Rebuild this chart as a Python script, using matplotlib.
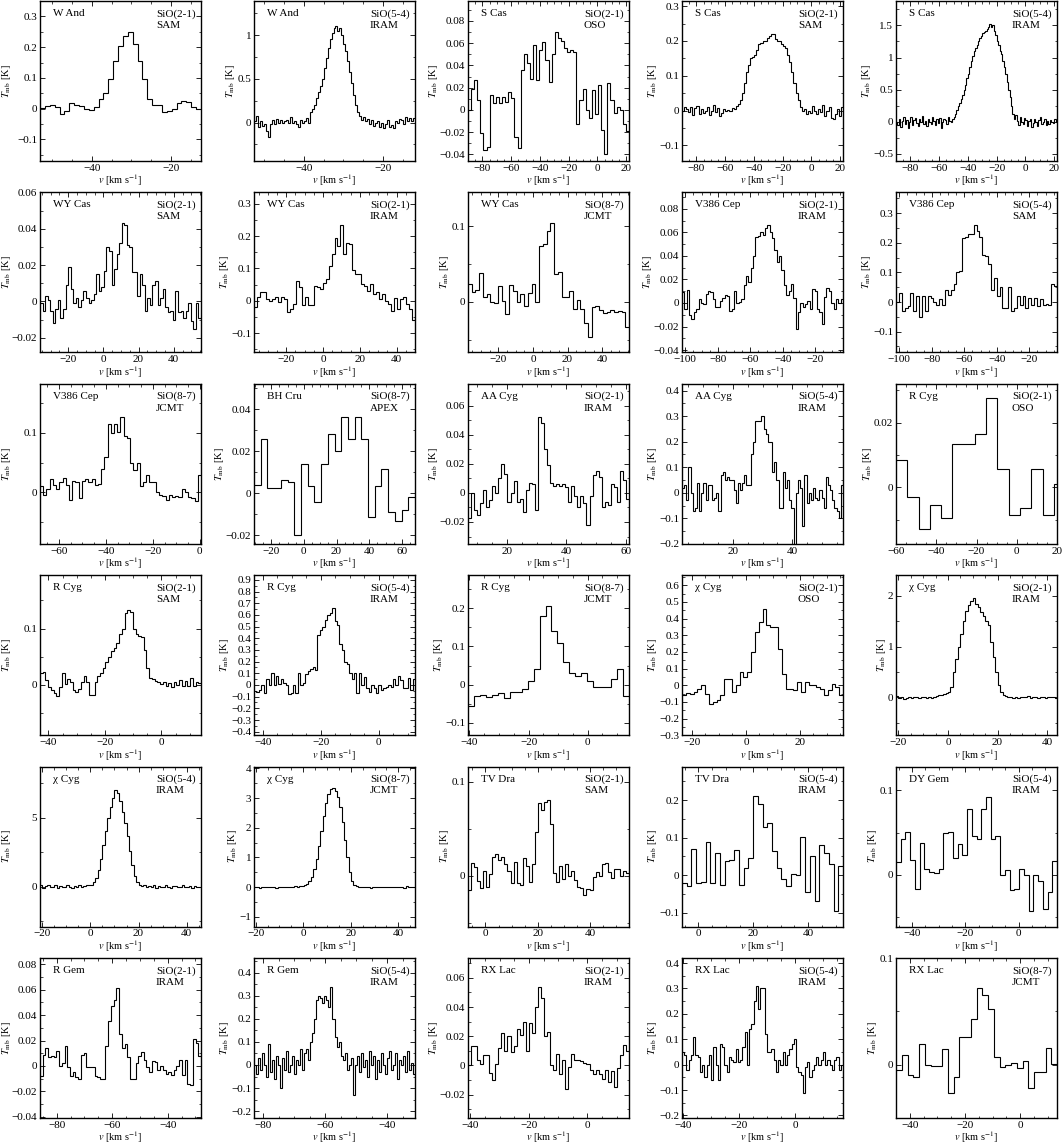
import numpy as np
import matplotlib
matplotlib.use("Agg")
import matplotlib.pyplot as plt
from matplotlib.ticker import FuncFormatter, AutoMinorLocator, FixedLocator

plt.rcParams['font.family'] = ['Liberation Serif', 'DejaVu Serif']
plt.rcParams['mathtext.fontset'] = 'stix'
plt.rcParams['font.size'] = 8

# ---------------- data (T_mb in K per velocity channel) ----------------
w_and_21 = [0.003, 0.008, 0.011, 0.006, -0.017, -0.008, 0.017, 0.011, 0.008, 0.0, -0.005, 0.006, 0.03, 0.052,
            0.097, 0.154, 0.205, 0.235, 0.25, 0.21, 0.154, 0.095, 0.03, 0.011, 0.011, -0.012, -0.008, 0.0,
            0.017, 0.025, 0.022, 0.006, 0.0]
w_and_54 = [0.02, 0.07, -0.05, 0.02, -0.04, -0.02, -0.1, -0.16, -0.02, 0.03, -0.02, 0.04, 0.0, 0.03, -0.01,
            0.02, 0.03, -0.01, 0.06, 0.0, 0.02, -0.02, -0.05, 0.03, 0.0, 0.02, 0.05, 0.0, 0.12,
            0.15, 0.2, 0.28, 0.35, 0.42, 0.5, 0.62, 0.74, 0.85, 0.96, 1.02, 1.08, 1.1, 1.05, 1.08, 1.0, 0.9,
            0.82, 0.7, 0.58, 0.45, 0.32, 0.2, 0.12, 0.08, 0.03,
            0.06, 0.02, 0.04, -0.02, 0.03, -0.04, -0.01, 0.02, -0.05, 0.0, -0.06, -0.02, 0.03, -0.05, -0.03,
            -0.06, 0.02, -0.01, 0.04, 0.03, -0.02, 0.06, 0.02, 0.05, 0.02, 0.05]
s_cas_oso = [0.0, 0.019, 0.027, 0.009, -0.021, -0.036, -0.033, 0.013, 0.006, 0.012, 0.006, 0.012, 0.007, 0.016,
             0.011, -0.024, -0.034, 0.036, 0.05, 0.042, 0.028, 0.058, 0.027, 0.054, 0.061, 0.045, 0.025, 0.05,
             0.07, 0.065, 0.062, 0.056, 0.052, 0.054, 0.052, -0.013, 0.009, 0.019, 0.0, -0.007, 0.018, -0.004,
             0.022, -0.018, -0.04, 0.024, 0.009, -0.003, 0.003, 0.0, -0.013, -0.019]
s_cas_sam = [0.0, 0.01, 0.005, -0.005, 0.01, -0.012, 0.008, 0.012, -0.01, 0.005, -0.008, 0.0, 0.01, -0.012, 0.0,
             0.015, -0.005, 0.008, -0.015, -0.008, 0.005, 0.0, 0.003, -0.002, 0.008, 0.005, 0.012, 0.02,
             0.03, 0.05, 0.08, 0.11, 0.13, 0.15, 0.155, 0.16, 0.175, 0.19, 0.195, 0.2, 0.2, 0.21, 0.215, 0.22,
             0.22, 0.205, 0.2, 0.2, 0.19, 0.185, 0.18, 0.16, 0.14, 0.11, 0.08, 0.05, 0.03,
             0.01, 0.0, 0.005, -0.01, 0.0, -0.008, 0.012, 0.0, -0.01, 0.005, -0.005, 0.015, -0.015, 0.0, 0.01,
             -0.02, -0.025, -0.01, 0.005, -0.015, 0.01]
s_cas_iram = [0.0, -0.05, 0.05, -0.08, 0.02, 0.07, -0.03, 0.03, -0.09, 0.0, 0.08, -0.05, 0.03, 0.06, -0.02, -0.07,
              0.04, 0.0, 0.09, -0.04, 0.02, -0.06, 0.05, 0.0, -0.03, 0.07, 0.02, -0.05, 0.04, -0.02, 0.06, -0.1,
              0.0, 0.05, 0.03, -0.03, 0.08, 0.02, 0.0,
              0.05, 0.08, 0.12, 0.18, 0.25, 0.3, 0.36, 0.42, 0.5, 0.58, 0.68, 0.75, 0.85, 0.95, 1.02, 1.1, 1.15,
              1.2, 1.25, 1.3, 1.33, 1.38, 1.4, 1.42, 1.45, 1.48, 1.52, 1.47, 1.5, 1.42, 1.35, 1.25, 1.2, 1.1,
              1.05, 0.95, 0.85, 0.75, 0.62, 0.5, 0.38, 0.25, 0.12,
              0.05, 0.1, 0.02, -0.05, 0.08, 0.0, -0.04, 0.06, 0.03, -0.06, 0.02, 0.05, -0.08, -0.02, 0.04, 0.0,
              -0.06, 0.03, 0.07, -0.03, 0.0, 0.05, -0.05, 0.02, -0.04, 0.03, 0.0, -0.02, 0.04, -0.01]
wy_cas_sam = [-0.001, -0.005, 0.003, 0.001, -0.005, -0.012, -0.004, 0.001, -0.009, -0.004, 0.009, 0.019, 0.007,
              -0.001, 0.002, -0.003, 0.001, 0.006, 0.002, -0.001, 0.001, 0.004, 0.015, 0.006, 0.008, 0.017, 0.03,
              0.028, 0.009, 0.018, 0.026, 0.032, 0.043, 0.042, 0.031, 0.03, 0.016, 0.016, 0.003, 0.015, 0.009,
              -0.005, 0.002, -0.002, 0.009, 0.011, -0.002, 0.002, 0.007, -0.003, -0.006, -0.005, -0.01, 0.006,
              -0.006, -0.005, -0.009, -0.005, -0.001, -0.011, -0.015, -0.001, -0.009]
wy_cas_iram = [-0.02, 0.012, 0.026, 0.026, 0.005, 0.0, 0.005, 0.01, -0.005, 0.01, 0.005, -0.036, -0.026, -0.01,
               0.061, 0.041, -0.013, 0.01, -0.012, -0.012, 0.046, 0.041, 0.036, 0.056, 0.067, 0.108, 0.143,
               0.194, 0.169, 0.235, 0.143, 0.179, 0.174, 0.095, 0.082, 0.082, 0.051, 0.046, 0.031, 0.051, 0.02,
               0.026, 0.005, 0.02, 0.0, -0.01, -0.031, 0.008, -0.026, 0.005, 0.01, -0.01, -0.026, -0.061]
wy_cas_jcmt = [0.023, 0.013, 0.016, 0.038, 0.007, 0.01, 0.0, -0.001, 0.021, 0.001, -0.016, 0.022, 0.015, 0.0,
               0.011, -0.006, 0.012, 0.024, 0.0, 0.074, 0.076, 0.094, 0.105, 0.037, 0.039, 0.007, 0.007, 0.015,
               -0.009, 0.002, -0.01, -0.028, -0.046, -0.007, -0.006, -0.011, -0.015, -0.013, -0.011, -0.013,
               -0.012, -0.013, -0.034]
v386_iram = [0.009, -0.005, 0.011, -0.01, -0.014, -0.008, -0.005, 0.003, 0.0, -0.001, 0.008, 0.01, 0.009, 0.003,
             -0.003, -0.003, 0.002, 0.004, 0.007, 0.006, -0.007, -0.005, 0.01, 0.0, 0.001, 0.003, 0.015, 0.023,
             0.018, 0.03, 0.04, 0.056, 0.057, 0.06, 0.058, 0.064, 0.066, 0.06, 0.055, 0.045, 0.035, 0.04, 0.028,
             0.015, 0.007, 0.01, 0.016, 0.004, -0.022, -0.008, 0.0, -0.003, -0.001, 0.002, -0.005, 0.012, 0.01,
             -0.005, -0.008, -0.018, 0.005, 0.013, 0.01, 0.0, -0.005, 0.003, 0.0, 0.003]
v386_sam = [0.0, 0.03, -0.03, -0.02, -0.015, 0.03, -0.03, 0.02, -0.05, 0.02, -0.03, 0.02, 0.015, 0.0, -0.01, 0.01,
            -0.01, 0.04, 0.025, 0.04, 0.06, 0.1, 0.105, 0.215, 0.22, 0.23, 0.23, 0.26, 0.24, 0.22, 0.16, 0.155,
            0.13, 0.04, 0.08, 0.02, 0.05, -0.02, -0.02, 0.05, -0.03, -0.02, 0.02, -0.01, 0.02, -0.02, 0.015,
            -0.01, 0.015, -0.015, 0.01, -0.01, -0.005, -0.01, 0.06, 0.055]
v386_jcmt = [0.01, -0.005, 0.005, 0.022, 0.012, 0.005, 0.018, 0.025, 0.012, -0.013, 0.02, 0.018, -0.01, 0.02,
             0.022, 0.018, 0.022, 0.012, 0.015, 0.04, 0.06, 0.115, 0.1, 0.115, 0.102, 0.127, 0.095, 0.092, 0.05,
             0.038, 0.05, 0.01, 0.018, 0.03, 0.017, 0.018, 0.0, -0.005, -0.006, -0.012, -0.005, -0.007, -0.006,
             -0.007, 0.005, 0.0, -0.007, -0.01, -0.015, 0.03]
bh_cru_apex = [0.004, 0.026, 0.0025, 0.0025, 0.0065, 0.0055, -0.02, 0.014, 0.0035, -0.004, 0.014, 0.028, 0.02,
               0.036, 0.026, 0.036, 0.026, -0.0115, 0.0035, 0.0115, -0.009, -0.013, -0.008, -0.002]
aa_cyg_21 = [-0.017, 0.0, -0.012, -0.015, -0.007, 0.002, -0.01, -0.005, 0.005, 0.0, 0.01, 0.02, 0.013, -0.006, 0.0,
             0.008, -0.006, -0.004, -0.013, 0.002, 0.007, 0.006, -0.012, 0.052, 0.048, 0.03, 0.019, 0.007, 0.005,
             0.006, 0.005, 0.006, 0.004, -0.006, 0.005, -0.002, -0.01, -0.002, -0.007, -0.022, -0.002, 0.012,
             0.015, 0.011, -0.01, -0.006, -0.008, 0.006, 0.004, -0.006, 0.015, 0.009, -0.004]
aa_cyg_54 = [0.02, 0.03, -0.03, 0.1, 0.0, -0.07, -0.06, 0.04, -0.07, 0.0, 0.04, -0.03, 0.03, 0.03, -0.03, -0.02,
             0.0, -0.07, 0.07, 0.08, 0.05, 0.06, 0.05, 0.05, 0.01, -0.04, 0.04, 0.01, 0.04, 0.07, 0.03, 0.03,
             0.15, 0.2, 0.28, 0.28, 0.28, 0.3, 0.25, 0.23, 0.2, 0.2, 0.08, 0.12, 0.05, -0.06, -0.06, 0.08, 0.02,
             0.05, -0.03, -0.06, -0.25, 0.0, 0.05, 0.02, -0.13, 0.07, -0.04, 0.0, -0.03, 0.02, -0.02, -0.03, 0.01,
             -0.02, -0.06, 0.06, 0.03, 0.01, -0.03, -0.06, -0.07, -0.1, 0.03]
r_cyg_oso = [0.0085, -0.003, -0.013, -0.0055, -0.0095, 0.0135, 0.0133, 0.0165, 0.0275, 0.0055, -0.0085, -0.0065,
             0.0055, -0.0085, 0.001]
r_cyg_sam = [0.02, 0.022, 0.008, -0.005, -0.01, -0.015, -0.02, -0.005, 0.02, 0.002, 0.01, 0.005, -0.01, -0.013,
             -0.008, 0.005, 0.015, 0.005, -0.018, -0.018, 0.005, 0.015, 0.02, 0.03, 0.04, 0.05, 0.06, 0.065,
             0.075, 0.09, 0.1, 0.127, 0.133, 0.13, 0.1, 0.09, 0.087, 0.085, 0.062, 0.03, 0.012, 0.01, 0.007,
             0.005, 0.002, 0.005, -0.003, 0.003, -0.005, 0.005, 0.0, 0.008, -0.003, 0.007, -0.003, 0.012, -0.002,
             0.005, 0.003]
r_cyg_iram = [-0.05, -0.06, -0.04, 0.0, -0.07, 0.05, 0.0, 0.1, 0.0, 0.08, 0.01, 0.05, 0.02, 0.0, -0.08, -0.07,
              0.0, -0.07, 0.1, 0.0, 0.02, 0.09, 0.12, 0.14, 0.15, 0.13, 0.43, 0.47, 0.5, 0.56, 0.6, 0.62, 0.66,
              0.55, 0.51, 0.35, 0.3, 0.2, 0.18, 0.1, 0.05, 0.1, -0.07, 0.1, 0.0, 0.07, -0.03, -0.06, 0.0, -0.03,
              -0.07, 0.0, -0.04, -0.03, -0.02, 0.0, -0.02, 0.05, 0.0, 0.08, 0.04, -0.03, -0.03, 0.06, -0.04, 0.05]
r_cyg_jcmt = [-0.055, -0.03, -0.028, -0.033, -0.028, -0.022, -0.035, -0.02, -0.02, -0.01, 0.01, 0.04, 0.18, 0.205,
              0.14, 0.11, 0.06, 0.03, 0.022, 0.03, 0.01, -0.005, -0.007, -0.005, 0.015, 0.04, -0.03]
chi_cyg_oso = [-0.06, -0.045, -0.05, -0.04, -0.02, 0.0, -0.05, -0.115, -0.1, -0.09, -0.06, 0.04, 0.04, -0.04, 0.0,
               0.08, 0.05, 0.08, 0.2, 0.32, 0.38, 0.46, 0.36, 0.35, 0.35, 0.22, 0.07, -0.025, -0.02, -0.03, 0.02,
               -0.04, 0.02, 0.0, 0.0, -0.01, -0.02, -0.06, -0.03, 0.01, -0.01, -0.06]
chi_cyg_21 = [0.02, -0.01, 0.0, -0.03, -0.02, 0.01, -0.01, 0.0, 0.01, -0.01, 0.0, 0.0, -0.01, 0.0, -0.02, 0.0, 0.03,
              0.05, 0.05, 0.07, 0.08, 0.1, 0.2, 0.5, 0.75, 1.0, 1.25, 1.5, 1.7, 1.83, 1.9, 1.95, 1.85, 1.78, 1.68,
              1.6, 1.5, 1.42, 1.1, 0.8, 0.5, 0.25, 0.1, 0.05,
              0.02, 0.0, 0.01, -0.01, 0.0, -0.02, 0.0, 0.01, 0.0, 0.02, -0.01, 0.0, 0.0, -0.01, 0.01, 0.0, -0.01,
              0.0, 0.0, 0.01, -0.01]
chi_cyg_54 = [0.1, -0.1, 0.05, 0.15, -0.05, 0.0, 0.1, -0.1, 0.05, 0.0, -0.05, 0.1, 0.0, -0.1, 0.05, 0.0, 0.1, -0.05,
              0.05, 0.15, 0.1,
              0.15, 0.3, 0.6, 1.2, 2.0, 3.0, 4.0, 5.0, 5.8, 6.4, 7.0, 6.8, 6.2, 5.4, 4.6, 3.7, 2.6, 1.6, 0.8, 0.3,
              0.15, 0.05,
              0.1, -0.05, 0.05, 0.0, 0.1, -0.1, 0.05, 0.0, -0.05, 0.1, 0.0, -0.1, 0.05, 0.05, -0.05, 0.0, 0.1,
              -0.05, 0.0, 0.05, -0.1, 0.05, 0.0, -0.05]
chi_cyg_87 = [0.02, 0.0, -0.02, 0.01, 0.0, 0.02, -0.01, 0.0, 0.01, -0.02, 0.0, 0.01, 0.0, -0.01, 0.02, 0.0, 0.01,
              0.03, 0.02, 0.04, 0.05, 0.08, 0.12,
              0.2, 0.35, 0.6, 0.95, 1.4, 1.9, 2.4, 2.85, 3.15, 3.3, 3.35, 3.25, 3.05, 2.7, 2.2, 1.6, 1.0, 0.5,
              0.2, 0.08,
              0.03, 0.0, 0.02, -0.01, 0.0, 0.01, -0.02, 0.0, 0.01, 0.0, -0.01, 0.02, 0.0, -0.01, 0.01, 0.0, 0.02,
              -0.01, 0.0, 0.01, -0.02, 0.03, 0.0, -0.01, 0.02]
tv_dra_21 = [-0.015, 0.014, 0.009, -0.006, -0.013, 0.005, -0.012, 0.002, 0.02, 0.023, 0.017, 0.02, 0.012, 0.005,
             -0.008, 0.015, -0.008, -0.01, 0.019, 0.01, -0.007, 0.013, 0.047, 0.077, 0.07, 0.078, 0.08, 0.055,
             0.003, -0.007, 0.01, -0.003, 0.012, 0.0, 0.005, -0.005, -0.012, -0.013, -0.02, -0.014, -0.015,
             -0.001, 0.004, 0.0, 0.013, 0.014, 0.004, -0.002, 0.007, 0.007, 0.0, 0.005, 0.003]
tv_dra_54 = [-0.02, -0.03, 0.07, -0.02, -0.018, 0.087, -0.02, 0.06, -0.025, 0.038, 0.04, 0.068, -0.025, 0.02, 0.045,
             0.21, 0.19, 0.127, 0.14, 0.063, 0.018, -0.01, -0.03, 0.003, 0.0, 0.102, -0.045, 0.05, -0.07, 0.08,
             0.06, 0.03, -0.095, 0.025]
dy_gem_54 = [0.015, 0.042, 0.051, 0.018, -0.017, 0.038, 0.007, 0.004, 0.002, 0.007, 0.05, 0.051, 0.02, 0.036,
             0.023, 0.078, 0.046, 0.042, 0.078, 0.092, 0.043, 0.046, 0.0, 0.006, -0.018, -0.016, 0.007, 0.0,
             -0.043, 0.0, -0.007, -0.04, -0.02, 0.016]
r_gem_21 = [-0.008, 0.009, 0.014, 0.007, 0.008, 0.007, 0.012, 0.0, 0.002, 0.016, -0.001, -0.008, -0.005, -0.009,
            -0.01, 0.009, 0.01, -0.001, -0.001, -0.001, -0.008, -0.009, -0.01, -0.01, 0.016, 0.035, 0.047, 0.052,
            0.061, 0.025, 0.014, 0.017, 0.007, -0.01, -0.01, 0.002, 0.008, 0.011, 0.005, -0.001, -0.005, 0.004,
            0.003, -0.003, 0.0, -0.003, -0.006, -0.005, -0.007, -0.003, 0.0, 0.005, -0.007, 0.005, -0.014,
            -0.015, 0.021, 0.018, 0.008]
r_gem_54 = [0.0, -0.04, 0.03, -0.02, 0.05, 0.0, -0.05, 0.09, -0.03, 0.02, -0.06, 0.04, 0.0, -0.1, 0.03, -0.02,
            0.06, -0.03, 0.0, 0.04, -0.04, 0.02, 0.0, 0.07, -0.02, 0.05,
            0.07, 0.02, 0.1, 0.14, 0.2, 0.28, 0.3, 0.29, 0.27, 0.3, 0.28, 0.25, 0.34, 0.2, 0.12, 0.08, 0.1, 0.04,
            0.02,
            0.05, -0.02, 0.0, 0.03, -0.13, 0.0, 0.04, -0.03, 0.05, -0.01, 0.02, -0.05, 0.06, 0.0, 0.04, -0.06,
            0.02, -0.03, 0.05, 0.0, -0.04, 0.03, 0.06, -0.02, 0.0, 0.05, -0.06, 0.02, 0.0, 0.04, -0.03, 0.06,
            -0.02, 0.01, -0.04]
rx_lac_21 = [0.0, 0.013, 0.013, 0.004, 0.001, 0.007, 0.007, -0.005, -0.01, 0.001, 0.012, 0.022, 0.01, 0.02, 0.009,
             0.013, 0.025, 0.021, 0.03, 0.01, 0.029, 0.022, 0.04, 0.054, 0.046, 0.02, 0.023, 0.0, -0.003, 0.008,
             -0.006, 0.004, -0.016, -0.001, 0.008, 0.004, 0.004, 0.003, 0.002, 0.001, -0.003, -0.006, -0.003,
             -0.006, -0.009, -0.003, -0.011, -0.004, -0.015, -0.002, 0.007, 0.014, 0.01]
rx_lac_54 = [0.05, 0.04, -0.02, 0.02, 0.04, 0.11, 0.04, 0.03, -0.03, 0.0, -0.05, 0.0, 0.04, -0.06, 0.07, 0.0, -0.06,
             0.08, 0.07, 0.0, -0.03, 0.03, 0.02, 0.01, 0.06, 0.01, 0.02, 0.07, 0.13, 0.0, 0.14, 0.16, 0.25, 0.31,
             0.22, 0.3, 0.3, 0.12, 0.05, 0.05, 0.06, 0.02, -0.03, 0.02, 0.0, 0.05, 0.0, 0.04, 0.06, 0.08, 0.1,
             -0.01, -0.03, -0.04, -0.11, -0.01, 0.01, -0.05, -0.02, 0.0, 0.03, 0.0, 0.02, 0.05, 0.0, 0.02, 0.0,
             -0.02, 0.02, 0.03, -0.02, 0.0]
rx_lac_87 = [-0.005, 0.009, -0.01, -0.012, 0.019, 0.0, -0.001, -0.001, 0.0145, -0.027, -0.012, 0.026, 0.026, 0.043,
             0.072, 0.065, 0.052, 0.007, -0.002, 0.0, 0.0015, -0.003, 0.003, -0.022, -0.007, -0.007, 0.016, 0.001]

# ---------------- panel descriptions ----------------
stars = ["W And", "W And", "S Cas", "S Cas", "S Cas",
         "WY Cas", "WY Cas", "WY Cas", "V386 Cep", "V386 Cep",
         "V386 Cep", "BH Cru", "AA Cyg", "AA Cyg", "R Cyg",
         "R Cyg", "R Cyg", "R Cyg", "χ Cyg", "χ Cyg",
         "χ Cyg", "χ Cyg", "TV Dra", "TV Dra", "DY Gem",
         "R Gem", "R Gem", "RX Lac", "RX Lac", "RX Lac"]
lines = ["SiO(2-1)", "SiO(5-4)", "SiO(2-1)", "SiO(2-1)", "SiO(5-4)",
         "SiO(2-1)", "SiO(2-1)", "SiO(8-7)", "SiO(2-1)", "SiO(5-4)",
         "SiO(8-7)", "SiO(8-7)", "SiO(2-1)", "SiO(5-4)", "SiO(2-1)",
         "SiO(2-1)", "SiO(5-4)", "SiO(8-7)", "SiO(2-1)", "SiO(2-1)",
         "SiO(5-4)", "SiO(8-7)", "SiO(2-1)", "SiO(5-4)", "SiO(5-4)",
         "SiO(2-1)", "SiO(5-4)", "SiO(2-1)", "SiO(5-4)", "SiO(8-7)"]
telescopes = ["SAM", "IRAM", "OSO", "SAM", "IRAM",
              "SAM", "IRAM", "JCMT", "IRAM", "SAM",
              "JCMT", "APEX", "IRAM", "IRAM", "OSO",
              "SAM", "IRAM", "JCMT", "OSO", "IRAM",
              "IRAM", "JCMT", "SAM", "IRAM", "IRAM",
              "IRAM", "IRAM", "IRAM", "IRAM", "JCMT"]
spectra = [w_and_21, w_and_54, s_cas_oso, s_cas_sam, s_cas_iram,
           wy_cas_sam, wy_cas_iram, wy_cas_jcmt, v386_iram, v386_sam,
           v386_jcmt, bh_cru_apex, aa_cyg_21, aa_cyg_54, r_cyg_oso,
           r_cyg_sam, r_cyg_iram, r_cyg_jcmt, chi_cyg_oso, chi_cyg_21,
           chi_cyg_54, chi_cyg_87, tv_dra_21, tv_dra_54, dy_gem_54,
           r_gem_21, r_gem_54, rx_lac_21, rx_lac_54, rx_lac_87]
# velocity span covered by the channels [km/s]
vel_span = [(-53, -12.5), (-52.5, -12), (-90, 22), (-90, 22), (-90, 22),
            (-36, 55.5), (-37.5, 50), (-37.5, 55.5), (-102, -3), (-102, -3),
            (-68, 0.5), (-30.5, 68), (7, 61), (3, 57), (-60, 24),
            (-43, 14), (-43, 12.5), (-40.5, 14), (-23.7, 36), (-21, 44),
            (-21, 46), (-20.7, 47), (-6.7, 55), (-6, 52.7), (-46, 14.4),
            (-86, -28), (-83, -31), (-40.8, 14.2), (-40.5, 17), (-45, 13.3)]
xlims = [(-53, -12.5), (-52.5, -12), (-90, 22), (-90, 22), (-90, 22),
         (-36, 55.5), (-37.5, 50), (-37.5, 55.5), (-102, -3), (-102, -3),
         (-68, 0.5), (-30.5, 68), (7, 61), (3, 57), (-60, 20),
         (-43, 14), (-43, 12.5), (-40.5, 14), (-23.7, 36), (-21, 44),
         (-21, 46), (-20.7, 47), (-6.7, 55), (-6, 52.7), (-46, 14.4),
         (-86, -28), (-83, -31), (-40.8, 14.2), (-40.5, 17), (-45, 13.3)]
ylims = [(-0.17, 0.35), (-0.44, 1.39), (-0.046, 0.098), (-0.145, 0.315), (-0.61, 1.88),
         (-0.028, 0.06), (-0.16, 0.335), (-0.067, 0.145), (-0.042, 0.094), (-0.17, 0.37),
         (-0.086, 0.182), (-0.024, 0.052), (-0.035, 0.075), (-0.2, 0.427), (-0.0175, 0.032),
         (-0.09, 0.195), (-0.43, 0.94), (-0.132, 0.286), (-0.3, 0.66), (-0.75, 2.41),
         (-2.9, 8.7), (-1.33, 4.06), (-0.054, 0.116), (-0.137, 0.289), (-0.061, 0.128),
         (-0.041, 0.085), (-0.23, 0.464), (-0.036, 0.0736), (-0.21, 0.42), (-0.05, 0.1)]
xticks = [[-40, -20], [-40, -20], [-80, -60, -40, -20, 0, 20], [-80, -60, -40, -20, 0, 20],
          [-80, -60, -40, -20, 0, 20],
          [-20, 0, 20, 40], [-20, 0, 20, 40], [-20, 0, 20, 40], [-100, -80, -60, -40, -20],
          [-100, -80, -60, -40, -20],
          [-60, -40, -20, 0], [-20, 0, 20, 40, 60], [20, 40, 60], [20, 40], [-60, -40, -20, 0, 20],
          [-40, -20, 0], [-40, -20, 0], [-40, -20, 0], [-20, 0, 20], [-20, 0, 20, 40],
          [-20, 0, 20, 40], [-20, 0, 20, 40], [0, 20, 40], [0, 20, 40], [-40, -20, 0],
          [-80, -60, -40], [-80, -60, -40], [-40, -20, 0], [-40, -20, 0], [-40, -20, 0]]
yticks = [[-0.1, 0, 0.1, 0.2, 0.3], [0, 0.5, 1], [-0.04, -0.02, 0, 0.02, 0.04, 0.06, 0.08],
          [-0.1, 0, 0.1, 0.2, 0.3], [-0.5, 0, 0.5, 1, 1.5],
          [-0.02, 0, 0.02, 0.04, 0.06], [-0.1, 0, 0.1, 0.2, 0.3], [0, 0.1],
          [-0.04, -0.02, 0, 0.02, 0.04, 0.06, 0.08], [-0.1, 0, 0.1, 0.2, 0.3],
          [0, 0.1], [-0.02, 0, 0.02, 0.04], [-0.02, 0, 0.02, 0.04, 0.06],
          [-0.2, -0.1, 0, 0.1, 0.2, 0.3, 0.4], [0, 0.02],
          [0, 0.1], [-0.4, -0.3, -0.2, -0.1, 0, 0.1, 0.2, 0.3, 0.4, 0.5, 0.6, 0.7, 0.8, 0.9],
          [-0.1, 0, 0.1, 0.2], [-0.3, -0.2, -0.1, 0, 0.1, 0.2, 0.3, 0.4, 0.5, 0.6], [0, 1, 2],
          [0, 5], [-1, 0, 1, 2, 3, 4], [0, 0.1], [-0.1, 0, 0.1, 0.2], [0, 0.1],
          [-0.04, -0.02, 0, 0.02, 0.04, 0.06, 0.08], [-0.2, -0.1, 0, 0.1, 0.2, 0.3, 0.4],
          [-0.02, 0, 0.02, 0.04, 0.06], [-0.2, -0.1, 0, 0.1, 0.2, 0.3, 0.4], [0, 0.1]]


def fmt(v, pos):
    s = f"{round(v, 6):g}"
    if s == "-0":
        s = "0"
    return s.replace("-", "\u2212")


W, H = 1063, 1144
fig = plt.figure(figsize=(W / 100, H / 100), dpi=100)

for i in range(30):
    r, c = divmod(i, 5)
    left_px = 40 + 214 * c
    top_px = 1 + 191.4 * r
    ax = fig.add_axes([left_px / W, 1 - (top_px + 160) / H, 161 / W, 160 / H])
    vals = np.asarray(spectra[i], dtype=float)
    edges = np.linspace(vel_span[i][0], vel_span[i][1], len(vals) + 1)
    ax.stairs(vals, edges, baseline=None, color='black', lw=0.8)
    ax.set_xlim(*xlims[i])
    ax.set_ylim(*ylims[i])
    ax.xaxis.set_major_locator(FixedLocator(xticks[i]))
    ax.yaxis.set_major_locator(FixedLocator(yticks[i]))
    ax.xaxis.set_minor_locator(AutoMinorLocator(4))
    ax.yaxis.set_minor_locator(AutoMinorLocator(2))
    ax.xaxis.set_major_formatter(FuncFormatter(fmt))
    ax.yaxis.set_major_formatter(FuncFormatter(fmt))
    ax.tick_params(which='both', direction='in', top=True, right=True, labelsize=8, pad=2)
    ax.tick_params(which='major', length=3.5, width=0.6)
    ax.tick_params(which='minor', length=1.8, width=0.5)
    for sp in ax.spines.values():
        sp.set_linewidth(1.0)
    ax.set_xlabel(r"$v$ [km s$^{-1}$]", fontsize=7.5, labelpad=0)
    ax.set_ylabel(r"$T_{\rm mb}$ [K]", fontsize=7.5, labelpad=0)
    if c == 0:
        ax.yaxis.set_label_coords(-0.17, 0.5)
    ax.text(0.08, 0.95, stars[i], transform=ax.transAxes, ha='left', va='top', fontsize=8)
    ax.text(0.72, 0.95, lines[i] + "\n" + telescopes[i], transform=ax.transAxes,
            ha='left', va='top', fontsize=8, linespacing=1.3)

fig.savefig("out.png", dpi=100)
